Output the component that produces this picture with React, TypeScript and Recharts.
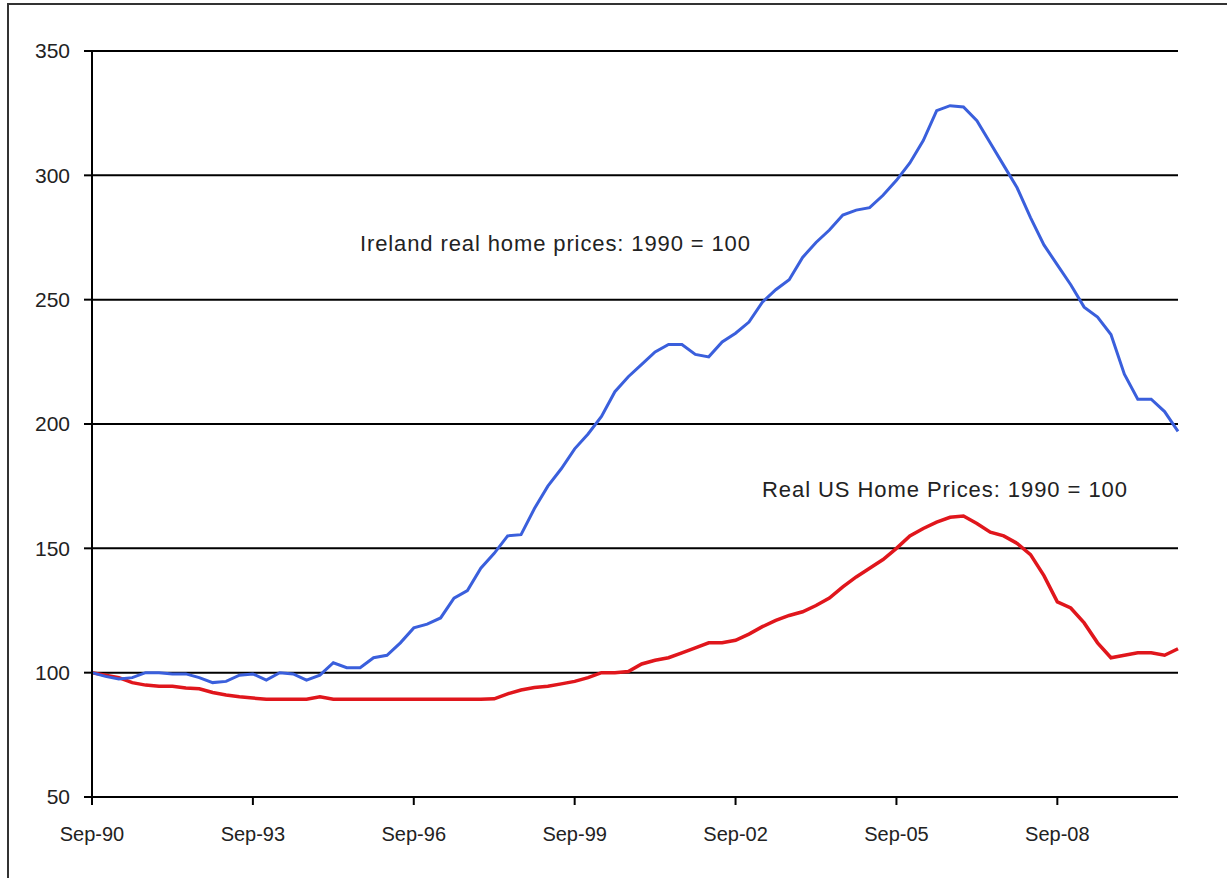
import React from "react";
import { LineChart, Line, XAxis, YAxis, CartesianGrid } from "recharts";

const yearSuffixes = ["90","91","92","93","94","95","96","97","98","99","00","01","02","03","04","05","06","07","08","09","10"];
const quarterMonths = ["Sep", "Dec", "Mar", "Jun"];

// quarterly categories Sep-90 .. Dec-10
const categories: string[] = [];
for (let i = 0; i < 82; i++) {
  const q = i % 4;
  const yi = Math.floor(i / 4) + (q >= 2 ? 1 : 0);
  categories.push(`${quarterMonths[q]}-${yearSuffixes[yi]}`);
}

const irelandPrices = [
  100, 98.5, 97.5, 98, 100, 100, 99.5, 99.5, 98, 96,
  96.5, 99, 99.5, 97, 100, 99.5, 97, 99, 104, 102,
  102, 106, 107, 112, 118, 119.5, 122, 130, 133, 142,
  148, 155, 155.5, 166, 175, 182, 190, 196, 203, 213,
  219, 224, 229, 232, 232, 228, 227, 233, 236.5, 241,
  249, 254, 258, 267, 273, 278, 284, 286, 287, 292,
  298, 305, 314, 326, 328, 327.5, 322, 313, 304, 295,
  283, 272, 264, 256, 247, 243, 236, 220, 210, 210,
  205, 197,
];

const usPrices = [
  100, 99, 98, 96, 95, 94.5, 94.5, 93.8, 93.5, 92,
  91, 90.3, 89.8, 89.3, 89.3, 89.3, 89.3, 90.3, 89.3, 89.3,
  89.3, 89.3, 89.3, 89.3, 89.3, 89.3, 89.3, 89.3, 89.3, 89.3,
  89.5, 91.5, 93, 94, 94.5, 95.5, 96.5, 98, 100, 100,
  100.5, 103.5, 105, 106, 108, 110, 112, 112, 113, 115.5,
  118.5, 121, 123, 124.5, 127, 130, 134.5, 138.5, 142, 145.5,
  150, 155, 158, 160.5, 162.5, 163, 160, 156.5, 155, 152,
  147.5, 139, 128.5, 126, 120, 112, 106, 107, 108, 108,
  107, 109.6,
];

const yTicks = [50, 100, 150, 200, 250, 300, 350];

const irelandLabel = "Ireland real home prices: 1990 = 100";
const usLabel = "Real US Home Prices: 1990 = 100";

const data = categories.map((c, i) => ({
  label: c,
  ireland: irelandPrices[i],
  us: usPrices[i],
}));

const FONT = "'Liberation Sans', Arial, Helvetica, sans-serif";

export default function App() {
  return (
    <div
      style={{
        position: "absolute",
        left: 0,
        top: 0,
        width: 1227,
        height: 878,
        overflow: "hidden",
        background: "#fff",
        fontFamily: FONT,
      }}
    >
      <div
        style={{
          position: "absolute",
          left: 7,
          top: 3,
          width: 1240,
          height: 900,
          border: "2px solid #333",
          boxSizing: "border-box",
        }}
      />
      <div style={{ position: "absolute", left: 0, top: 0 }}>
        <LineChart
          width={1227}
          height={878}
          data={data}
          margin={{ top: 51, right: 49, bottom: 41, left: 0 }}
        >
          <CartesianGrid vertical={false} stroke="#000" strokeWidth={2} />
          <XAxis
            dataKey="label"
            type="category"
            interval={11}
            height={40}
            tickSize={8}
            tickMargin={22}
            axisLine={{ stroke: "#000", strokeWidth: 2 }}
            tickLine={{ stroke: "#000", strokeWidth: 2 }}
            tick={{ fill: "#222", fontSize: 20, fontFamily: FONT }}
          />
          <YAxis
            type="number"
            domain={[50, 350]}
            ticks={yTicks}
            width={92}
            tickSize={8}
            tickMargin={14}
            interval={0}
            axisLine={{ stroke: "#000", strokeWidth: 2 }}
            tickLine={{ stroke: "#000", strokeWidth: 2 }}
            tick={{ fill: "#222", fontSize: 21, fontFamily: FONT }}
          />
          <Line
            type="linear"
            dataKey="us"
            stroke="#e0161c"
            strokeWidth={3.5}
            dot={false}
            isAnimationActive={false}
          />
          <Line
            type="linear"
            dataKey="ireland"
            stroke="#3a5fdc"
            strokeWidth={3}
            dot={false}
            isAnimationActive={false}
          />
        </LineChart>
      </div>
      <svg
        width={1227}
        height={878}
        style={{ position: "absolute", left: 0, top: 0, pointerEvents: "none" }}
      >
        <text
          x={360}
          y={251}
          fontSize={22}
          fill="#222"
          fontFamily={FONT}
          textLength={390}
          lengthAdjust="spacing"
        >
          {irelandLabel}
        </text>
        <text
          x={762}
          y={497}
          fontSize={22}
          fill="#222"
          fontFamily={FONT}
          textLength={365}
          lengthAdjust="spacing"
        >
          {usLabel}
        </text>
      </svg>
    </div>
  );
}
